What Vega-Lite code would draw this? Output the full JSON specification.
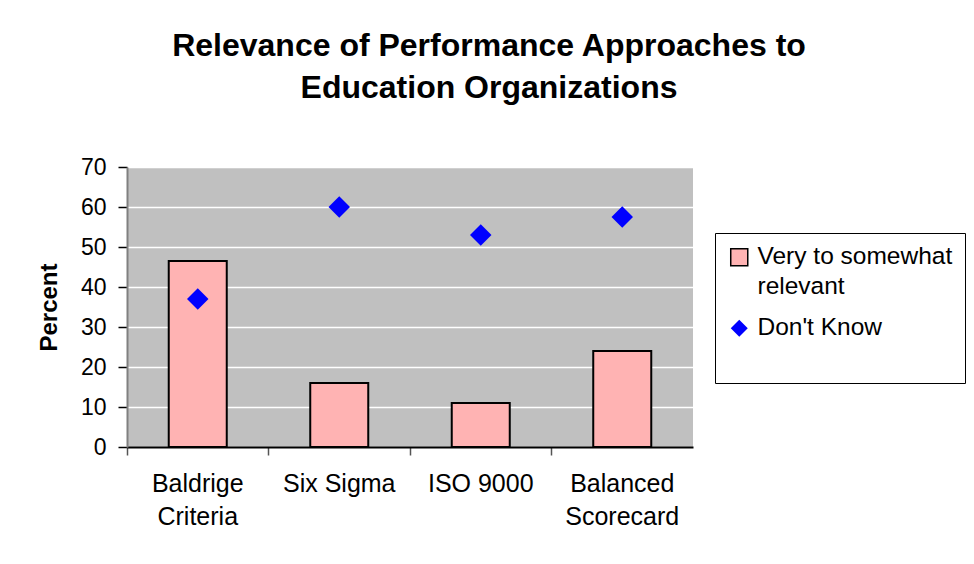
{
  "$schema": "https://vega.github.io/schema/vega-lite/v6.json",
  "width": 566,
  "height": 280,
  "autosize": {"type": "none"},
  "padding": {"left": 127, "top": 167, "right": 281, "bottom": 117},
  "background": "white",
  "title": {
    "text": ["Relevance of Performance Approaches to", "Education Organizations"],
    "font": "Liberation Sans",
    "fontSize": 32,
    "fontWeight": "bold",
    "color": "black",
    "anchor": "middle",
    "frame": "group",
    "dx": 79,
    "offset": 51,
    "lineHeight": 42
  },
  "config": {
    "view": {"fill": "#C0C0C0", "stroke": null},
    "font": "Liberation Sans"
  },
  "data": {
    "values": [
      {"cat": "Baldrige Criteria", "series": "Very to somewhat relevant", "value": 46.5},
      {"cat": "Six Sigma", "series": "Very to somewhat relevant", "value": 16},
      {"cat": "ISO 9000", "series": "Very to somewhat relevant", "value": 11},
      {"cat": "Balanced Scorecard", "series": "Very to somewhat relevant", "value": 24},
      {"cat": "Baldrige Criteria", "series": "Don't Know", "value": 37},
      {"cat": "Six Sigma", "series": "Don't Know", "value": 60},
      {"cat": "ISO 9000", "series": "Don't Know", "value": 53},
      {"cat": "Balanced Scorecard", "series": "Don't Know", "value": 57.5}
    ]
  },
  "encoding": {
    "x": {
      "field": "cat",
      "type": "nominal",
      "sort": ["Baldrige Criteria", "Six Sigma", "ISO 9000", "Balanced Scorecard"],
      "scale": {"paddingInner": 0, "paddingOuter": 0},
      "axis": {
        "title": null,
        "bandPosition": 0,
        "labelAngle": 0,
        "labelFontSize": 25,
        "labelColor": "black",
        "labelPadding": 16,
        "labelLineHeight": 33,
        "labelBaseline": "top",
        "labelExpr": "datum.label == 'Baldrige Criteria' ? ['Baldrige', 'Criteria'] : datum.label == 'Balanced Scorecard' ? ['Balanced', 'Scorecard'] : datum.label",
        "tickSize": 8,
        "tickColor": "#555555",
        "tickWidth": 1.5,
        "domainColor": "black",
        "domainWidth": 2,
        "grid": false
      }
    },
    "y": {
      "field": "value",
      "type": "quantitative",
      "scale": {"domain": [0, 70], "nice": false},
      "axis": {
        "title": "Percent",
        "titleFontSize": 24,
        "titleFontWeight": "bold",
        "titleColor": "black",
        "titlePadding": 19,
        "values": [0, 10, 20, 30, 40, 50, 60, 70],
        "labelFontSize": 23,
        "labelColor": "black",
        "labelPadding": 12,
        "tickSize": 9,
        "tickColor": "black",
        "tickWidth": 1.5,
        "domainColor": "#808080",
        "domainWidth": 2,
        "grid": true,
        "gridColor": "white",
        "gridWidth": 1.5
      }
    },
    "color": {
      "field": "series",
      "type": "nominal",
      "scale": {"domain": ["Very to somewhat relevant", "Don't Know"], "range": ["#FFB3B3", "#0000FF"]},
      "legend": {
        "orient": "none",
        "legendX": 588,
        "legendY": 66,
        "title": " ",
        "titleOrient": "bottom",
        "titleFontSize": 26,
        "titlePadding": 5,
        "strokeColor": "black",
        "fillColor": "white",
        "padding": 12,
        "labelFontSize": 24.5,
        "labelColor": "black",
        "labelOffset": 6,
        "labelLimit": 300,
        "symbolSize": 290,
        "symbolStrokeColor": "black",
        "symbolOpacity": 1,
        "rowPadding": 16,
        "labelExpr": "datum.label == 'Very to somewhat relevant' ? ['Very to somewhat', 'relevant'] : datum.label",
        "encode": {
          "symbols": {"update": {"strokeWidth": {"signal": "datum.value == 'Very to somewhat relevant' ? 1.5 : 0"}}},
          "labels": {"update": {"lineHeight": {"value": 30}}}
        }
      }
    }
  },
  "layer": [
    {
      "transform": [{"filter": "datum.series == 'Very to somewhat relevant'"}],
      "mark": {"type": "bar", "width": {"band": 0.41}, "stroke": "black", "strokeWidth": 2}
    },
    {
      "transform": [{"filter": "datum.series != 'Very to somewhat relevant'"}],
      "mark": {"type": "point", "filled": true, "opacity": 1, "size": 460},
      "encoding": {
        "shape": {
          "field": "series",
          "type": "nominal",
          "scale": {"domain": ["Very to somewhat relevant", "Don't Know"], "range": ["square", "diamond"]}
        }
      }
    }
  ]
}
